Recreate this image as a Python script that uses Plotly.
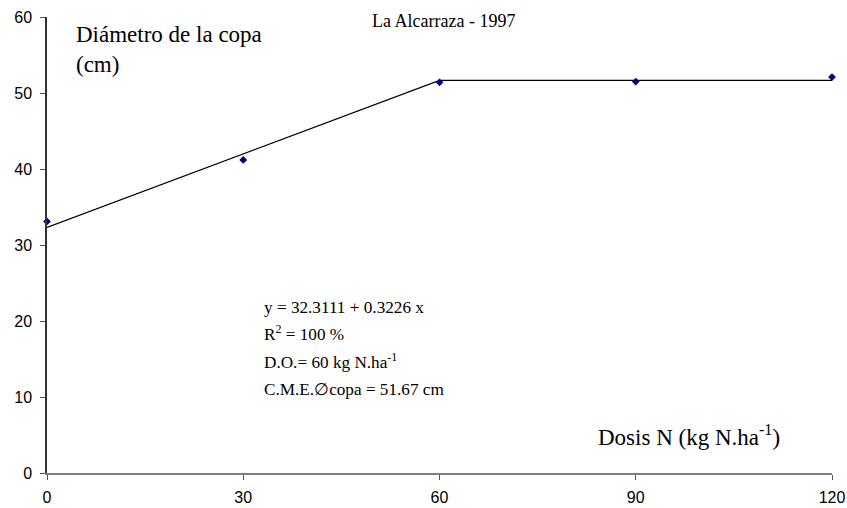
import plotly.graph_objects as go

dosis = [0, 30, 60, 90, 120]
diametro = [33.1, 41.2, 51.4, 51.5, 52.1]
fit_x = [0, 60, 120]
fit_y = [32.3111, 51.67, 51.67]
x_ticks = [0, 30, 60, 90, 120]
y_ticks = [0, 10, 20, 30, 40, 50, 60]

fig = go.Figure()
fig.add_trace(go.Scatter(x=fit_x, y=fit_y, mode="lines",
                         line=dict(color="black", width=1.3), showlegend=False, cliponaxis=False))
fig.add_trace(go.Scatter(x=dosis, y=diametro, mode="markers",
                         marker=dict(symbol="diamond", size=6, color="#000080"),
                         showlegend=False, cliponaxis=False))

serif = "Liberation Serif, Times New Roman, serif"
tickfont = dict(family="Liberation Sans, Arial", size=16, color="black")
fig.update_layout(
    width=847, height=508,
    margin=dict(l=47, r=15, t=17, b=35, autoexpand=False),
    plot_bgcolor="white", paper_bgcolor="white",
    xaxis=dict(range=[0, 120], tickvals=x_ticks, showgrid=False, zeroline=False,
               showline=True, linecolor="#808080", linewidth=1.5, automargin=False,
               ticks="outside", ticklen=5, tickcolor="#555555",
               ticklabelstandoff=4, tickfont=tickfont),
    yaxis=dict(range=[0, 60], tickvals=y_ticks, showgrid=False, zeroline=False,
               showline=True, linecolor="#333333", linewidth=1.5, automargin=False,
               ticks="outside", ticklen=5, tickcolor="#555555",
               ticklabelstandoff=5, tickfont=tickfont),
    font=dict(family=serif, color="black"),
)

ann = [
    dict(text="Diámetro de la copa<br>(cm)", x=74, y=20, size=23),
    dict(text="La Alcarraza - 1997", x=370, y=9, size=18),
    dict(text="y = 32.3111 + 0.3226 x", x=262, y=296, size=17.2),
    dict(text="R<sup>2</sup> = 100 %", x=262, y=320, size=17.2),
    dict(text="D.O.= 60 kg N.ha<sup>-1</sup>", x=262, y=348, size=17.2),
    dict(text="C.M.E.∅copa = 51.67 cm", x=262, y=378, size=17.2),
    dict(text="Dosis N (kg N.ha<sup>-1</sup>)", x=596, y=419, size=23),
]
for a in ann:
    fig.add_annotation(text=a["text"], xref="paper", yref="paper",
                       x=(a["x"] - 47) / (832 - 47),
                       y=1 - (a["y"] - 17) / (473 - 17),
                       xanchor="left", yanchor="top", showarrow=False, align="left",
                       font=dict(family=serif, size=a["size"], color="black"))

fig.write_html("out.html")
